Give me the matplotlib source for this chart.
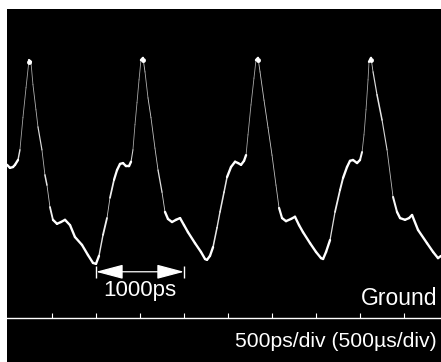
import numpy as np
import matplotlib
matplotlib.use("Agg")
import matplotlib.pyplot as plt
from matplotlib.collections import LineCollection
from matplotlib.patches import FancyArrowPatch

# ---- data (time in ps, amplitude in vertical divisions above ground) ----
time_ps = [-1011, -977, -943, -920, -886, -864, -830, -795, -761, -739, -716, -682, -659, -614,
           -580, -557, -523, -489, -443, -398, -352, -295, -239, -159, -91, -34, 0,
           34, 80, 125, 159, 205, 239, 273, 307, 341, 375, 398, 420, 443, 466, 489, 511, 534,
           557, 591, 625, 670, 705, 750, 784, 818, 864, 909, 955, 1000, 1045, 1125, 1193, 1239, 1261,
           1295, 1330, 1375, 1409, 1455, 1489, 1534, 1580, 1614, 1648, 1682, 1705, 1727, 1761, 1795,
           1818, 1841, 1864, 1909, 1955, 2000, 2045, 2080, 2114, 2159, 2216, 2261, 2307, 2352, 2432,
           2500, 2557, 2580, 2614, 2659, 2716, 2773, 2807, 2852, 2886, 2920, 2966, 3000, 3023, 3045,
           3068, 3091, 3102, 3125, 3148, 3193, 3250, 3307, 3375, 3420, 3455, 3511, 3557, 3591, 3659,
           3761, 3830, 3886, 3920]
volts_div = [3.48, 3.41, 3.43, 3.48, 3.59, 3.82, 4.55, 5.23, 5.86, 5.82, 5.30, 4.73, 4.34, 3.82,
             3.25, 3.02, 2.52, 2.23, 2.14, 2.18, 2.23, 2.11, 1.84, 1.66, 1.43, 1.25, 1.23,
             1.41, 1.89, 2.27, 2.73, 3.14, 3.36, 3.50, 3.52, 3.45, 3.45, 3.55, 3.82, 4.39, 4.89, 5.41, 5.86, 5.91,
             5.59, 5.00, 4.55, 3.86, 3.36, 2.86, 2.41, 2.25, 2.18, 2.23, 2.27, 2.11, 1.95, 1.70, 1.50, 1.34, 1.32,
             1.41, 1.61, 2.05, 2.41, 2.86, 3.20, 3.43, 3.55, 3.52, 3.48, 3.57, 3.70, 4.16, 4.84, 5.45,
             5.86, 5.91, 5.59, 4.95, 4.32, 3.70, 3.02, 2.50, 2.27, 2.20, 2.25, 2.30, 2.11, 1.95, 1.70,
             1.50, 1.36, 1.34, 1.50, 1.77, 2.41, 2.91, 3.18, 3.43, 3.57, 3.59, 3.52, 3.59, 3.77, 4.16,
             4.73, 5.41, 5.82, 5.91, 5.59, 5.07, 4.50, 3.82, 2.75, 2.41, 2.27, 2.23, 2.27, 2.34, 2.00,
             1.70, 1.50, 1.36, 1.41]
tick_ps = [-500, 0, 500, 1000, 1500, 2000, 2500, 3000, 3500]
arrow_start_ps = 0
arrow_end_ps = 1000
arrow_level = 1.05
measure_label = "1000ps"
ground_label = "Ground"
scale_label = "500ps/div (500\u00b5s/div)"

plt.rcParams['font.family'] = ['Liberation Sans', 'DejaVu Sans']

fig = plt.figure(figsize=(4.41, 3.62), dpi=100, facecolor='white')
ax = fig.add_axes([7 / 441, 0, 434 / 441, 353 / 362])
ax.set_facecolor('black')
ax.set_xlim(-1011, 3920)
ax.set_ylim(-1.0, 7.02)

t = np.array(time_ps, dtype=float)
v = np.array(volts_div, dtype=float)

# trace: thinner and fainter on fast edges (like a scope trace), thicker on slow parts
pts = np.column_stack([t, v]).reshape(-1, 1, 2)
segs = np.concatenate([pts[:-1], pts[1:]], axis=1)
slope_px = np.abs(np.diff(v) * 44) / (np.diff(t) / 11.364)
widths = np.clip(2.6 - 0.3 * slope_px, 0.6, 1.7)
alphas = np.clip(1.2 - 0.06 * slope_px, 0.65, 1.0)
colors = [(1, 1, 1, a) for a in alphas]
lc = LineCollection(segs, linewidths=widths, colors=colors, capstyle='round', joinstyle='round')
ax.add_collection(lc)

# bright blobs at the peaks
peak_idx = [i for i in range(1, len(v) - 1) if v[i] >= v[i - 1] and v[i] >= v[i + 1] and v[i] > 5.5]
ax.plot(t[peak_idx], v[peak_idx] - 0.05, linestyle='none', marker='o', markersize=3.5,
        color='white', markeredgewidth=0)

# ground line with ticks (bottom spine placed at 0)
for s in ['top', 'left', 'right']:
    ax.spines[s].set_visible(False)
ax.spines['bottom'].set_position(('data', 0))
ax.spines['bottom'].set_color('white')
ax.spines['bottom'].set_linewidth(1.0)
ax.set_xticks(tick_ps)
ax.tick_params(axis='x', direction='in', length=3.5, width=0.8, color='white', labelbottom=False)
ax.set_yticks([])

# measurement arrow
arr = FancyArrowPatch((arrow_start_ps, arrow_level), (arrow_end_ps, arrow_level),
                      arrowstyle='<|-|>,head_length=1.7,head_width=0.45', mutation_scale=10,
                      color='white', linewidth=0.9, shrinkA=0, shrinkB=0)
ax.add_patch(arr)
ax.vlines([arrow_start_ps, arrow_end_ps], arrow_level - 0.14, arrow_level + 0.14,
          color='white', linewidth=1.0)

ax.text((arrow_start_ps + arrow_end_ps) / 2, 0.63, measure_label, color='white',
        fontsize=16, ha='center', va='center')
ax.text(0.991, 0.161, ground_label, transform=ax.transAxes, color='white',
        fontsize=16.5, ha='right', va='baseline')
ax.text(0.991, 0.043, scale_label, transform=ax.transAxes, color='white',
        fontsize=15.2, ha='right', va='baseline')

fig.savefig('out.png', dpi=100, facecolor='white')
